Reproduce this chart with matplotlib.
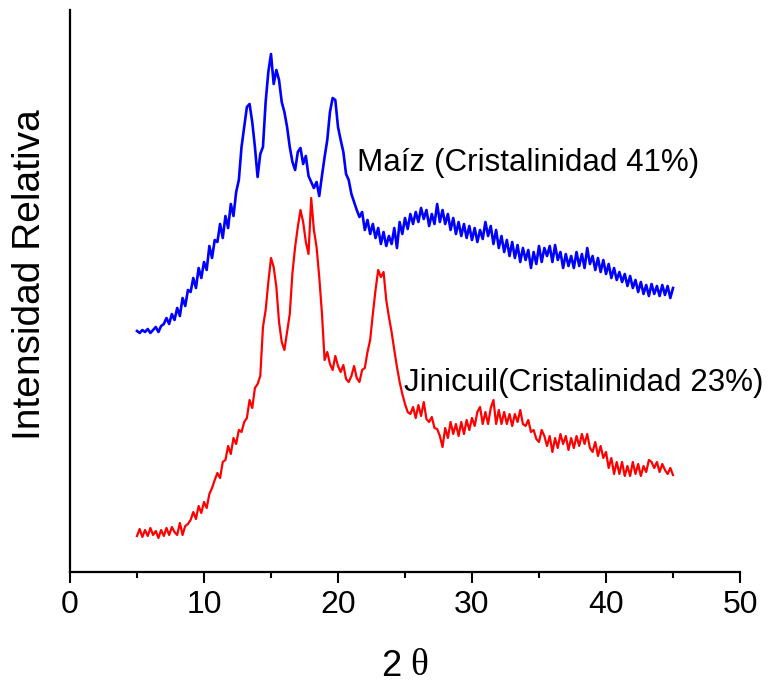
import numpy as np
import matplotlib
matplotlib.use("Agg")
import matplotlib.pyplot as plt
from matplotlib import font_manager as fm
from matplotlib.ticker import MultipleLocator

# 2-theta sampling grid (degrees)
two_theta = np.round(np.arange(5.0, 45.0001, 0.2), 1)

# Relative intensity, Maiz (blue, upper trace)
maiz = [
    241, 239, 242, 240, 243, 239, 242, 245, 240, 246,
    248, 254, 248, 258, 252, 264, 256, 274, 266, 282,
    280, 294, 284, 304, 294, 310, 302, 326, 314, 332,
    330, 348, 334, 356, 344, 368, 356, 380, 392, 425,
    445, 465, 468, 450, 425, 395, 418, 425, 470, 500,
    518, 488, 502, 492, 470, 460, 445, 425, 410, 402,
    420, 424, 408, 416, 396, 390, 384, 390, 376, 396,
    415, 432, 460, 474, 472, 445, 432, 420, 398, 392,
    378, 370, 362, 355, 360, 342, 352, 338, 348, 334,
    344, 328, 340, 326, 336,
    328, 344, 324, 350, 338, 354, 343, 358, 348, 360,
    350, 364, 353, 362, 346, 358, 348, 368, 350, 362,
    348, 358, 342, 354, 338, 350, 336, 348, 334, 346,
    332, 344, 330, 342, 333, 350, 336, 346, 328, 342,
    324, 336, 320, 332, 316, 330, 314, 327, 310, 324,
    312, 322, 304, 320, 308, 326, 310, 324, 316, 326,
    310, 327, 312, 320, 304, 318, 306, 316, 304, 320,
    306, 318, 304, 324, 308, 316, 302, 314, 300, 312,
    298, 308, 294, 304, 292, 300, 290, 298, 286, 296,
    284, 292, 280, 290, 278, 287, 276, 288, 278, 286,
    276, 287, 277, 286, 274, 284,
]

# Relative intensity, Jinicuil (red, lower trace)
jinicuil = [
    36, 43, 35, 42, 36, 44, 37, 41, 34, 42,
    36, 44, 37, 45, 40, 37, 49, 37, 46, 48,
    52, 60, 53, 66, 59, 70, 64, 78, 84, 92,
    99, 94, 110, 112, 126, 118, 134, 128, 142, 140,
    150, 154, 172, 164, 184, 188, 196, 245, 262, 290,
    314, 305, 285, 250, 230, 222, 240, 258, 299, 325,
    345, 362, 350, 330, 318, 374, 342, 325, 295, 259,
    212, 220, 208, 202, 216, 206, 200, 207, 193, 190,
    196, 206, 194, 190, 202, 204, 220, 232, 258, 282,
    302, 295, 300, 272, 255, 240, 222, 205, 190, 178,
    168, 160, 158, 165, 154, 167, 156, 170, 153, 150,
    155, 144, 143, 136, 125, 144, 134, 150, 138, 148,
    136, 150, 138, 152, 142, 154, 146, 160, 165, 148,
    160, 148, 164, 172, 148, 162, 148, 160, 148, 158,
    146, 158, 150, 162, 148, 146, 152, 140, 142, 133,
    130, 142, 136, 126, 136, 120, 134, 124, 138, 128,
    136, 122, 134, 124, 136, 126, 138, 128, 138, 124,
    120, 130, 116, 126, 114, 120, 104, 114, 98, 110,
    98, 110, 96, 106, 96, 110, 98, 108, 96, 106,
    100, 112, 110, 104, 110, 100, 108, 102, 98, 104,
    97,
]

labels = ["Maíz (Cristalinidad 41%)", "Jinicuil(Cristalinidad 23%)"]
x_ticks = [0, 10, 20, 30, 40, 50]

assert len(maiz) == len(two_theta) and len(jinicuil) == len(two_theta)

names = {f.name for f in fm.fontManager.ttflist}
sans = "Liberation Sans" if "Liberation Sans" in names else "DejaVu Sans"
serif = "Liberation Serif" if "Liberation Serif" in names else "DejaVu Serif"

W, H = 771, 685
fig = plt.figure(figsize=(W / 100, H / 100), dpi=100)
ax = fig.add_axes([70 / W, 1 - 572 / H, 670 / W, 562 / H])

ax.plot(two_theta, maiz, color="#0000ff", lw=1.9)
ax.plot(two_theta, jinicuil, color="#ff0000", lw=1.6)

ax.set_xlim(0, 50)
ax.set_ylim(0, 562)
ax.set_xticks(x_ticks)
ax.xaxis.set_minor_locator(MultipleLocator(5))
ax.set_yticks([])
for s in ("top", "right"):
    ax.spines[s].set_visible(False)
for s in ("left", "bottom"):
    ax.spines[s].set_linewidth(1.6)
ax.tick_params(axis="x", which="major", direction="out", length=8, width=1.5, pad=5,
               labelsize=23)
ax.tick_params(axis="x", which="minor", direction="out", length=4, width=1.5)
for t in ax.get_xticklabels():
    t.set_fontfamily(sans)

ax.text(21.4, 409, labels[0], fontsize=22.6, fontfamily=sans, ha="left", va="center")
ax.text(24.9, 189, labels[1], fontsize=22.6, fontfamily=sans, ha="left", va="center")

fig.text(30 / W, 1 - 275 / H, "Intensidad Relativa", fontsize=28, fontfamily=sans,
         rotation=90, ha="center", va="center")
fig.text(401 / W, 1 - 666 / H, "2", fontsize=26, fontfamily=sans,
         ha="right", va="center")
fig.text(410 / W, 1 - 666 / H, "θ", fontsize=27, fontfamily=serif,
         ha="left", va="center")

fig.savefig("out.png", dpi=100)
